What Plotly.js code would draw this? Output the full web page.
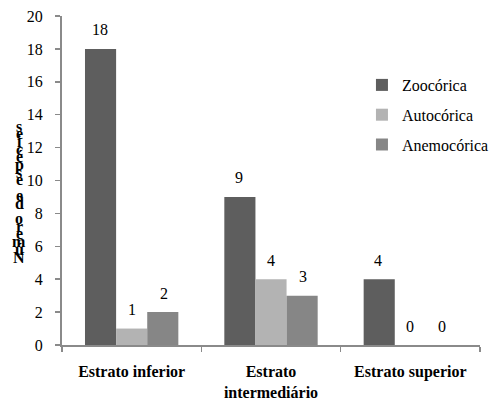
<!DOCTYPE html>
<html>
<head>
<meta charset="utf-8">
<script src="https://cdn.plot.ly/plotly-3.0.1.min.js"></script>
<style>html,body{margin:0;padding:0;background:#fff;}#chart{width:494px;height:402px;}</style>
</head>
<body>
<div id="chart"></div>
<script>
// Data
const categories = ['Estrato inferior', 'Estrato<br>intermediário', 'Estrato superior'];
const seriesNames = ['Zoocórica', 'Autocórica', 'Anemocórica'];
const zoocorica = [18, 9, 4];
const autocorica = [1, 4, 0];
const anemocorica = [2, 3, 0];
const yTitle = 'Número de espécies';

const seriesValues = [zoocorica, autocorica, anemocorica];
const colors = ['#5e5e5e', '#b3b3b3', '#868686'];
const serif = 'Liberation Serif, Times New Roman, serif';

const W = 494, H = 402;
const margin = {l: 62, r: 0, t: 16, b: 57, pad: 0};
const plotW = W - margin.l - margin.r;
const plotH = H - margin.t - margin.b;
const bargap = 0.33;
const barPx = plotW / categories.length * (1 - bargap) / seriesValues.length;

const traces = seriesValues.map((vals, i) => ({
  type: 'bar',
  name: seriesNames[i],
  x: categories,
  y: vals,
  marker: {color: colors[i], line: {width: 0}},
  legendgroup: 'g' + i,
  hoverinfo: 'none'
}));

const annotations = [];
seriesValues.forEach((vals, i) => {
  vals.forEach((v, j) => {
    annotations.push({
      xref: 'x', yref: 'y', x: categories[j], y: v,
      text: String(v), showarrow: false,
      xshift: (i - 1) * barPx, yshift: 19,
      xanchor: 'center', yanchor: 'middle',
      font: {family: serif, size: 16, color: '#000'}
    });
  });
});

// stacked y-axis title characters (bottom to top), as in the original figure
const chars = Array.from(yTitle);
const bottomPx = 257, topPx = 126;
const step = (bottomPx - topPx) / (chars.length - 1);
chars.forEach((c, k) => {
  if (c === ' ') return;
  const py = bottomPx - k * step;
  annotations.push({
    xref: 'paper', yref: 'paper', x: 0, xshift: -43,
    y: (H - margin.b - py) / plotH,
    text: '<b>' + c + '</b>', showarrow: false, xanchor: 'center', yanchor: 'middle',
    font: {family: serif, size: 16, color: '#000'}
  });
});

const layout = {
  width: W, height: H,
  margin: margin,
  paper_bgcolor: '#fff', plot_bgcolor: '#fff',
  barmode: 'group', bargap: bargap, bargroupgap: 0,
  showlegend: true,
  legend: {
    x: (372 - margin.l) / plotW, xanchor: 'left',
    y: (H - margin.b - 68) / plotH, yanchor: 'top',
    font: {family: serif, size: 16, color: '#000'},
    traceorder: 'grouped', tracegroupgap: 6,
    bgcolor: 'rgba(0,0,0,0)', borderwidth: 0
  },
  xaxis: {
    type: 'category',
    showline: true, linecolor: '#8a8a8a', linewidth: 2,
    ticks: 'outside', tickson: 'boundaries', ticklen: 5, tickcolor: '#8a8a8a', tickwidth: 1.5,
    ticklabelstandoff: 11,
    tickfont: {family: serif, size: 16, color: '#000', weight: 'bold'},
    showgrid: false, zeroline: false, fixedrange: true
  },
  yaxis: {
    range: [0, 20], dtick: 2, tick0: 0,
    showline: true, linecolor: '#8a8a8a', linewidth: 2,
    ticks: 'outside', ticklen: 5, tickcolor: '#8a8a8a', tickwidth: 1.5,
    ticklabelstandoff: 9,
    tickfont: {family: serif, size: 16, color: '#000'},
    showgrid: false, zeroline: false, fixedrange: true
  },
  annotations: annotations
};

Plotly.newPlot('chart', traces, layout, {displayModeBar: false, staticPlot: true});
</script>
</body>
</html>
